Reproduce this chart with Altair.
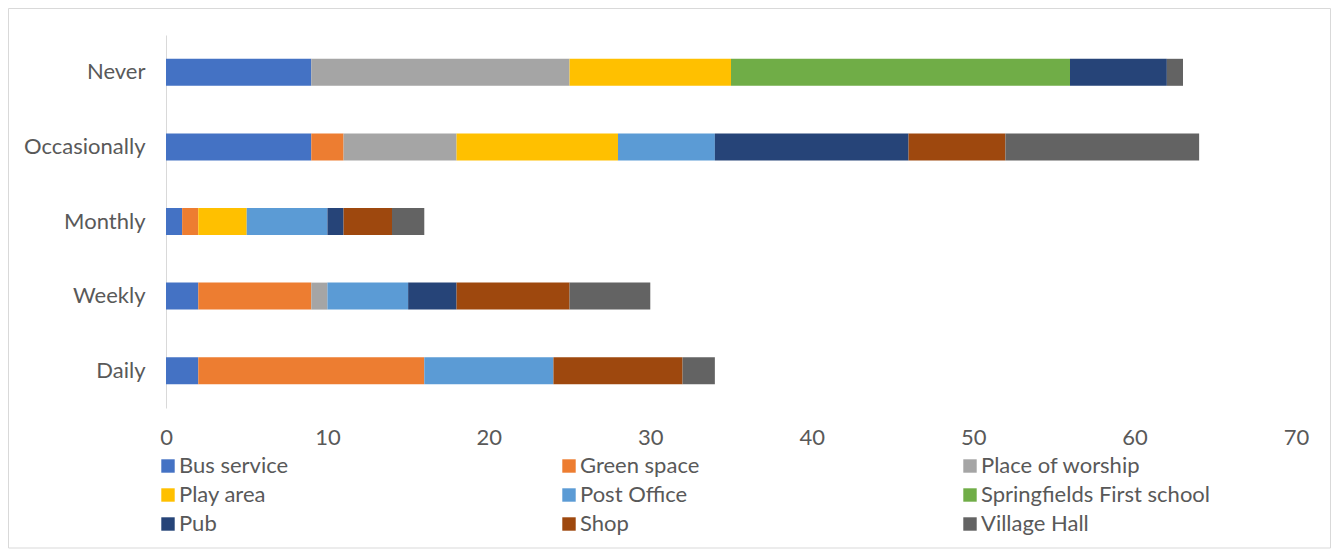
import altair as alt
import pandas as pd

categories = ["Never", "Occasionally", "Monthly", "Weekly", "Daily"]
series = ["Bus service", "Green space", "Place of worship", "Play area", "Post Office",
          "Springfields First school", "Pub", "Shop", "Village Hall"]
colors = ["#4472C4", "#ED7D31", "#A5A5A5", "#FFC000", "#5B9BD5",
          "#70AD47", "#264478", "#9E480E", "#636363"]

bus_service = [9, 9, 1, 2, 2]
green_space = [0, 2, 1, 7, 14]
place_of_worship = [16, 7, 0, 1, 0]
play_area = [10, 10, 3, 0, 0]
post_office = [0, 6, 5, 5, 8]
springfields = [21, 0, 0, 0, 0]
pub = [6, 12, 1, 3, 0]
shop = [0, 6, 3, 7, 8]
village_hall = [1, 12, 2, 5, 2]

values = [bus_service, green_space, place_of_worship, play_area, post_office,
          springfields, pub, shop, village_hall]

rows = []
for si, (s, vals) in enumerate(zip(series, values)):
    for c, v in zip(categories, vals):
        rows.append({"Frequency": c, "Facility": s, "Count": v, "order": si})
df = pd.DataFrame(rows)

FONT = "Lato"
GRAY = "#595959"
FS = 22

bars = alt.Chart(df).mark_bar(size=27).encode(
    y=alt.Y("Frequency:N", sort=categories, title=None,
            scale=alt.Scale(paddingInner=0, paddingOuter=0),
            axis=alt.Axis(ticks=False, domain=True, domainColor="#d9d9d9", domainWidth=1,
                          labelFontSize=FS, labelColor=GRAY, labelFont=FONT,
                          labelPadding=21, grid=False)),
    x=alt.X("Count:Q", title=None, stack="zero",
            scale=alt.Scale(domain=[0, 70]),
            axis=alt.Axis(values=[0, 10, 20, 30, 40, 50, 60, 70], ticks=False, domain=False,
                          grid=False, labelFontSize=FS, labelColor=GRAY, labelFont=FONT,
                          labelPadding=19, labelFlush=False)),
    color=alt.Color("Facility:N", sort=series,
                    scale=alt.Scale(domain=series, range=colors),
                    legend=alt.Legend(title=None, orient="none", legendX=-9, legendY=420,
                                      columns=3, direction="horizontal", gridAlign="all",
                                      columnPadding=149, rowPadding=7, labelLimit=400,
                                      symbolType="square", symbolSize=180,
                                      symbolStrokeWidth=0, labelFontSize=FS,
                                      labelColor=GRAY, labelFont=FONT, labelOffset=0)),
    order=alt.Order("order:Q"),
)

border = alt.Chart(pd.DataFrame({"a": [0]})).mark_rect(
    fill=None, stroke="#d9d9d9", strokeWidth=1
).encode(
    x=alt.value(-157.5), x2=alt.value(1164.5), y=alt.value(-26.5), y2=alt.value(513)
)

chart = alt.layer(bars, border).properties(
    width=1130, height=373,
    autosize=alt.AutoSizeParams(type="none"),
    padding={"left": 158, "top": 27, "right": 35, "bottom": 146},
    background="white",
).configure_view(stroke=None)

chart.save("out.html", embed_options={"renderer": "svg", "actions": False})
